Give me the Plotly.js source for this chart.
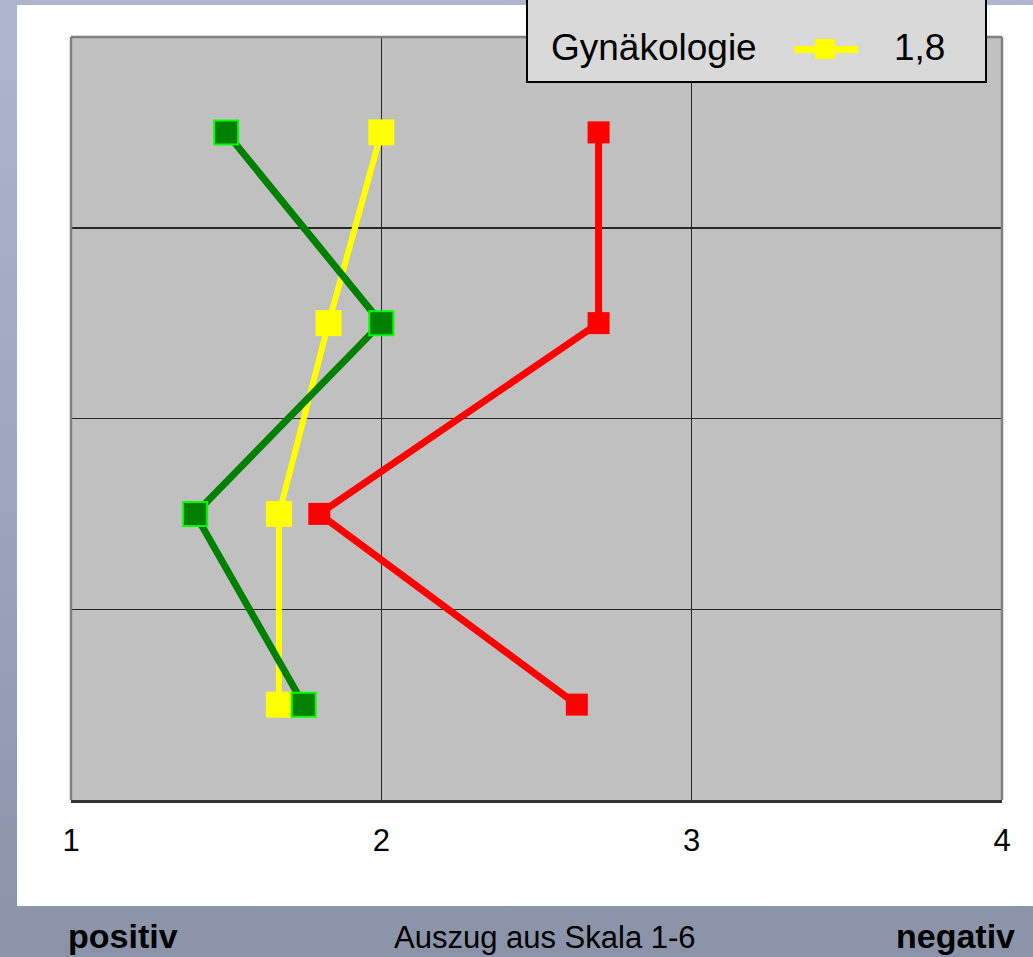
<!DOCTYPE html>
<html>
<head>
<meta charset="utf-8">
<script src="https://cdn.plot.ly/plotly-3.0.1.min.js"></script>
<style>
  html, body { margin: 0; padding: 0; }
  body { width: 1033px; height: 957px; overflow: hidden;
         background: linear-gradient(to bottom, #aeb6cd 0%, #9ca4bb 55%, #8b93a9 100%); }
  #chart { width: 1033px; height: 957px; }
</style>
</head>
<body>
<div id="chart"></div>
<script>
// ---- data ----
const rows = [1, 2, 3, 4];                 // four rated items, top to bottom
const xTicks = [1, 2, 3, 4];
const xTickLabels = ["1", "2", "3", "4"];

const seriesNames = ["Gynäkologie", "Neurologie", "Chirurgie"];
const yellowValues = [2.0, 1.83, 1.67, 1.67];   // Gynäkologie
const greenValues  = [1.5, 2.0, 1.4, 1.75];
const redValues    = [2.7, 2.7, 1.8, 2.63];

const bottomLeftLabel = "positiv";
const bottomCenterLabel = "Auszug aus Skala 1-6";
const bottomRightLabel = "negativ";

// ---- layout helpers (pixel -> paper) ----
const W = 1033, H = 957;
const M = {l: 71, r: 31, t: 37, b: 157};
const PW = W - M.l - M.r, PH = H - M.t - M.b;
const px = x => (x - M.l) / PW;
const py = y => (H - M.b - y) / PH;

const FONT = "Liberation Sans, Arial, Helvetica, sans-serif";
const mean = a => a.reduce((s, v) => s + v, 0) / a.length;
const fmt = v => v.toFixed(1).replace(".", ",");

const traces = [
  { x: yellowValues, y: rows, name: seriesNames[0], type: "scatter", mode: "lines+markers",
    line: {color: "#ffff00", width: 6},
    marker: {symbol: "square", size: 26, color: "#ffff00", line: {width: 0}} },
  { x: greenValues, y: rows, name: seriesNames[1], type: "scatter", mode: "lines+markers",
    line: {color: "#008000", width: 7},
    marker: {symbol: "square", size: 24, color: "#008000", line: {width: 2, color: "#00ff00"}} },
  { x: redValues, y: rows, name: seriesNames[2], type: "scatter", mode: "lines+markers",
    line: {color: "#ff0000", width: 7},
    marker: {symbol: "square", size: 22, color: "#ff0000", line: {width: 0}} }
];

const shapes = [
  // white panel
  {type: "rect", xref: "paper", yref: "paper", layer: "below",
   x0: px(17), x1: px(1040), y0: py(906), y1: py(5),
   fillcolor: "#ffffff", line: {width: 0}},
  // plot background
  {type: "rect", xref: "paper", yref: "paper", layer: "below",
   x0: 0, x1: 1, y0: 0, y1: 1, fillcolor: "#c0c0c0", line: {width: 0}},
  // plot border (left, top, right)
  {type: "line", xref: "paper", yref: "paper", layer: "above", x0: 0, x1: 0, y0: 0, y1: 1, line: {color: "#808080", width: 2.5}},
  {type: "line", xref: "paper", yref: "paper", layer: "above", x0: 0, x1: 1, y0: 1, y1: 1, line: {color: "#808080", width: 2.5}},
  {type: "line", xref: "paper", yref: "paper", layer: "above", x0: 1, x1: 1, y0: 0, y1: 1, line: {color: "#808080", width: 2.5}},
  // legend box
  {type: "rect", xref: "paper", yref: "paper", layer: "above",
   x0: px(527), x1: px(986), y0: py(82), y1: py(-80),
   fillcolor: "#d9d9d9", line: {color: "#000000", width: 2}},
  // legend symbol for Gynäkologie
  {type: "line", xref: "paper", yref: "paper", layer: "above",
   x0: px(794), x1: px(858), y0: py(49.5), y1: py(49.5), line: {color: "#ffff00", width: 7}},
  {type: "rect", xref: "paper", yref: "paper", layer: "above",
   x0: px(815), x1: px(835), y0: py(59), y1: py(39), fillcolor: "#ffff00", line: {width: 0}}
];

const annotations = [
  {xref: "paper", yref: "paper", x: px(549), y: py(47), xanchor: "left", yanchor: "middle",
   text: seriesNames[0], showarrow: false, font: {family: FONT, size: 37, color: "#000"}},
  {xref: "paper", yref: "paper", x: px(947), y: py(47), xanchor: "right", yanchor: "middle",
   text: fmt(mean(yellowValues)), showarrow: false, font: {family: FONT, size: 37, color: "#000"}},
  {xref: "paper", yref: "paper", x: px(66), y: py(936), xanchor: "left", yanchor: "middle",
   text: "<b>" + bottomLeftLabel + "</b>", showarrow: false, font: {family: FONT, size: 34, color: "#000"}},
  {xref: "paper", yref: "paper", x: px(545), y: py(937), xanchor: "center", yanchor: "middle",
   text: bottomCenterLabel, showarrow: false, font: {family: FONT, size: 31, color: "#000"}},
  {xref: "paper", yref: "paper", x: px(1017), y: py(936), xanchor: "right", yanchor: "middle",
   text: "<b>" + bottomRightLabel + "</b>", showarrow: false, font: {family: FONT, size: 34, color: "#000"}}
];

const layout = {
  width: W, height: H,
  margin: {l: M.l, r: M.r, t: M.t, b: M.b, pad: 0, autoexpand: false},
  paper_bgcolor: "rgba(0,0,0,0)",
  plot_bgcolor: "rgba(0,0,0,0)",
  showlegend: false,
  font: {family: FONT, color: "#000"},
  xaxis: {
    range: [1, 4], tickmode: "array", tickvals: xTicks, ticktext: xTickLabels,
    showgrid: true, gridcolor: "#262626", gridwidth: 1.5,
    zeroline: false, showline: true, linecolor: "#333333", linewidth: 2.5,
    ticks: "outside", ticklen: 11, tickcolor: "rgba(0,0,0,0)",
    tickfont: {family: FONT, size: 31, color: "#000"}, fixedrange: true
  },
  yaxis: {
    range: [4.5, 0.5], tickmode: "array", tickvals: [1.5, 2.5, 3.5],
    showticklabels: false, showgrid: true, gridcolor: "#262626", gridwidth: 1.5,
    zeroline: false, showline: false, ticks: "", fixedrange: true
  },
  shapes: shapes,
  annotations: annotations
};

Plotly.newPlot("chart", traces, layout, {staticPlot: true, displayModeBar: false});
</script>
</body>
</html>
